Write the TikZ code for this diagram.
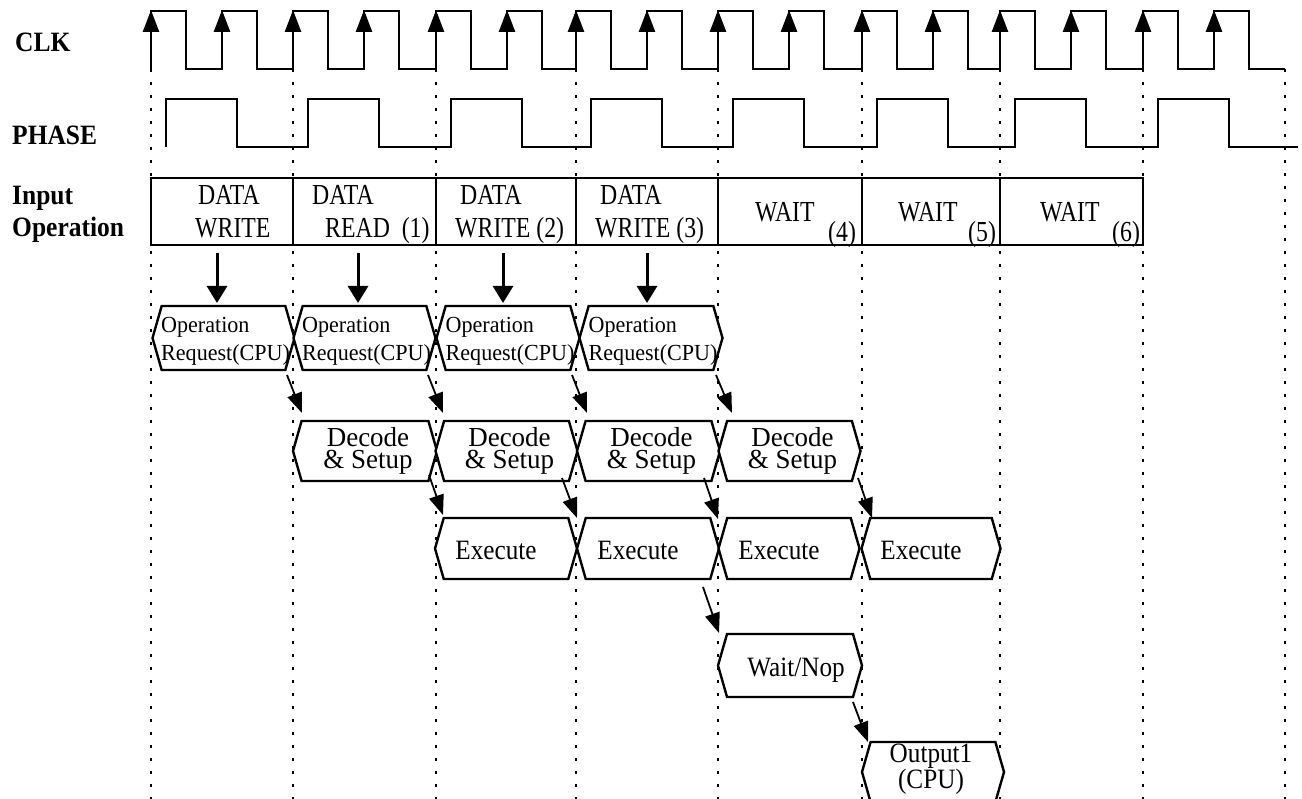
\documentclass[tikz,border=0pt]{standalone}
\usepackage{fontspec}
\setmainfont{Liberation Serif}
\newfontfamily\lblfont[FakeStretch=0.91]{Liberation Serif}
\newfontfamily\infont[FakeStretch=0.82]{Liberation Serif}
\newfontfamily\hexfont[FakeStretch=0.9]{Liberation Serif}
\newfontfamily\decfont[FakeStretch=0.98]{Liberation Serif}
\newfontfamily\opfont[FakeStretch=0.96]{Liberation Serif}
\usetikzlibrary{shapes.symbols,arrows.meta}
\begin{document}
\begin{tikzpicture}[x=1pt,y=-1pt,
  wave/.style={line width=2.6pt, line join=miter},
  guide/.style={line width=1.3pt, dash pattern=on 3pt off 10pt},
  inbox/.style={draw, line width=1.1pt, minimum width=#1, minimum height=67pt, inner sep=0pt, outer sep=0pt},
  hexa/.style={draw, fill=white, line width=2.4pt, shape=signal, signal to=east and west,
    signal pointer angle=148, inner sep=0pt, outer sep=0pt},
  lbl/.style={font=\lblfont\bfseries\fontsize{28pt}{28pt}\selectfont, anchor=base west, inner sep=0pt},
  intxt/.style={font=\infont\fontsize{29pt}{29pt}\selectfont, anchor=base west, inner sep=0pt},
  optxt/.style={font=\opfont\fontsize{23pt}{23pt}\selectfont, anchor=base west, inner sep=0pt},
  hextxt/.style={font=\hexfont\fontsize{28pt}{28pt}\selectfont, anchor=base, inner sep=0pt},
  twotxt/.style={font=\hexfont\fontsize{28pt}{22pt}\selectfont, align=center, anchor=center, inner sep=0pt},
  dectxt/.style={font=\decfont\fontsize{27.5pt}{22pt}\selectfont, align=center, anchor=center, inner sep=0pt},
  clkarr/.style={-{Triangle[length=22pt,width=16pt]}, line width=2.6pt},
  downarr/.style={-{Triangle[length=17pt,width=20pt]}, line width=3pt},
  diagarr/.style={-{Triangle[length=20pt,width=15pt]}, line width=1.8pt},
]
\useasboundingbox (0,0) rectangle (1302,799);

% guide lines
\foreach \x in {151,293,436,576,718,862,1000,1143,1285}
  \draw[guide] (\x,69) -- (\x,799);

% CLK waveform
\draw[wave] (151,69) foreach \x in {151,293,436,576,718,862,1000,1143} {
  -- (\x,69) -- (\x,11) -- (\x+35,11) -- (\x+35,69) -- (\x+71,69) -- (\x+71,11) -- (\x+106,11) -- (\x+106,69) }
  -- (1285,69);
\foreach \x in {151,293,436,576,718,862,1000,1143} {
  \draw[clkarr] (\x,45) -- (\x,10);
  \draw[clkarr] (\x+71,45) -- (\x+71,10);
}

% PHASE waveform
\draw[wave] (166,147) foreach \x in {151,293,436,576,718,862,1000,1143} {
  -- (\x+15,147) -- (\x+15,99) -- (\x+86,99) -- (\x+86,147) }
  -- (1298,147);

% labels
\node[lbl] (clk) at (15,52) {CLK};
\node[lbl] (phase) at (12,145) {PHASE};
\node[lbl] (inp) at (12,205) {Input};
\node[lbl] (oper) at (12,237) {Operation};

% input operation boxes
\node[inbox=142pt] (in1) at (222,211.5) {};
\node[inbox=143pt] (in2) at (364.5,211.5) {};
\node[inbox=140pt] (in3) at (506,211.5) {};
\node[inbox=142pt] (in4) at (647,211.5) {};
\node[inbox=144pt] (in5) at (790,211.5) {};
\node[inbox=138pt] (in6) at (931,211.5) {};
\node[inbox=143pt] (in7) at (1071.5,211.5) {};

\node[intxt] (t1a) at (198,205) {DATA};
\node[intxt] (t1b) at (195,238) {WRITE};
\node[intxt] (t2a) at (312,205) {DATA};
\node[intxt] (t2b) at (325,238) {READ\ \ (1)};
\node[intxt] (t3a) at (460,205) {DATA};
\node[intxt] (t3b) at (455,238) {WRITE (2)};
\node[intxt] (t4a) at (600,205) {DATA};
\node[intxt] (t4b) at (595,238) {WRITE (3)};
\node[intxt] (t5a) at (755,222) {WAIT};
\node[intxt] (t5b) at (828,242) {(4)};
\node[intxt] (t6a) at (898,222) {WAIT};
\node[intxt] (t6b) at (968,242) {(5)};
\node[intxt] (t7a) at (1040,222) {WAIT};
\node[intxt] (t7b) at (1112,242) {(6)};

% operation request hexagons
\node[hexa, minimum width=142pt, minimum height=64pt] (op1) at (223.5,338) {};
\node[hexa, minimum width=142pt, minimum height=64pt] (op2) at (364.5,338) {};
\node[hexa, minimum width=143pt, minimum height=64pt] (op3) at (508,338) {};
\node[hexa, minimum width=143pt, minimum height=64pt] (op4) at (651,338) {};
\foreach \n in {op1,op2,op3,op4} {
  \node[optxt] (\n a) at ([shift={(-62.5,-5)}]\n.center) {Operation};
  \node[optxt] (\n b) at ([shift={(-62.5,23)}]\n.center) {Request(CPU)};
}

% decode hexagons
\node[hexa, minimum width=144pt, minimum height=60pt] (dec1) at (365,451) {};
\node[hexa, minimum width=142pt, minimum height=60pt] (dec2) at (506.5,451) {};
\node[hexa, minimum width=143pt, minimum height=60pt] (dec3) at (648.5,451) {};
\node[hexa, minimum width=142pt, minimum height=60pt] (dec4) at (789.5,451) {};
\foreach \n in {dec1,dec2,dec3,dec4} {
  \node[dectxt] (\n t) at ([shift={(3,0)}]\n.center) {Decode\\\& Setup};
}

% execute hexagons
\node[hexa, minimum width=142pt, minimum height=61pt] (ex1) at (506,548.5) {};
\node[hexa, minimum width=142pt, minimum height=61pt] (ex2) at (648,548.5) {};
\node[hexa, minimum width=141pt, minimum height=61pt] (ex3) at (789,548.5) {};
\node[hexa, minimum width=139pt, minimum height=61pt] (ex4) at (931,548.5) {};
\foreach \n in {ex1,ex2,ex3,ex4} {
  \node[hextxt] (\n a) at ([shift={(-10,10.5)}]\n.center) {Execute};
}

% wait / output
\node[hexa, minimum width=144pt, minimum height=63pt] (wait) at (790,665.5) {};
\node[hextxt] (waita) at ([shift={(6,10.5)}]wait.center) {Wait/Nop};
\node[hexa, minimum width=142pt, minimum height=60pt] (out) at (933,772) {};
\node[twotxt] (outa) at ([shift={(-2,-2.5)}]out.center) {Output1\\(CPU)};

% arrows input -> operation request
\draw[downarr] ([shift={(-5,8)}]in1.south) -- ([shift={(-6.5,-3)}]op1.north);
\draw[downarr] ([shift={(-6.5,8)}]in2.south) -- ([shift={(-6.5,-3)}]op2.north);
\draw[downarr] ([shift={(-3,8)}]in3.south) -- ([shift={(-5,-3)}]op3.north);
\draw[downarr] ([shift={(0,8)}]in4.south) -- ([shift={(-4,-3)}]op4.north);

% operation request -> decode
\draw[diagarr] ([shift={(63.5,5)}]op1.south) -- ([shift={(-63,-8)}]dec1.north);
\draw[diagarr] ([shift={(63.5,5)}]op2.south) -- ([shift={(-63.5,-8)}]dec2.north);
\draw[diagarr] ([shift={(64,5)}]op3.south) -- ([shift={(-61.5,-8)}]dec3.north);
\draw[diagarr] ([shift={(65,5)}]op4.south) -- ([shift={(-57.5,-8)}]dec4.north);

% decode -> execute
\draw[diagarr] ([shift={(64,-6)}]dec1.south) -- ([shift={(-63,-3)}]ex1.north);
\draw[diagarr] ([shift={(55.5,-3)}]dec2.south) -- ([shift={(-71,0)}]ex2.north);
\draw[diagarr] ([shift={(55.5,-3)}]dec3.south) -- ([shift={(-71,1)}]ex3.north);
\draw[diagarr] ([shift={(68.5,-3)}]dec4.south) -- ([shift={(-59,0)}]ex4.north);

% execute -> wait -> output
\draw[diagarr] ([shift={(55,8)}]ex2.south) -- ([shift={(-71,-1)}]wait.north);
\draw[diagarr] ([shift={(63,5)}]wait.south) -- ([shift={(-65,0)}]out.north);
\end{tikzpicture}
\end{document}
